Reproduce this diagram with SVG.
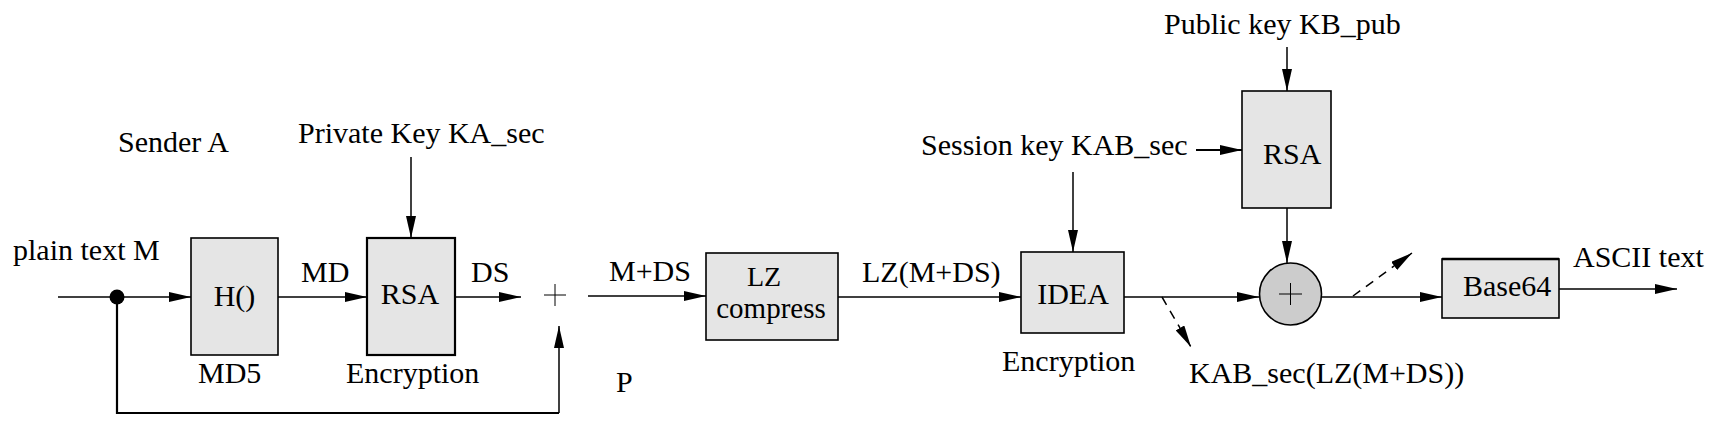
<svg xmlns="http://www.w3.org/2000/svg" width="1716" height="431" viewBox="0 0 1716 431" font-family="'Liberation Serif', 'DejaVu Serif', serif">
<style>
text{font-family:'Liberation Serif','DejaVu Serif',serif;font-size:30px;fill:#000}
.c{text-anchor:middle}
.box{fill:#e5e5e5;stroke:#000;stroke-width:1.6}
.ln{fill:none;stroke:#000;stroke-width:1.5}
.dash{fill:none;stroke:#000;stroke-width:1.5;stroke-dasharray:9,7}
</style>
<defs>
<marker id="ah" viewBox="0 0 22 10" markerWidth="22" markerHeight="10" refX="22" refY="5" orient="auto" markerUnits="userSpaceOnUse">
<path d="M0,0 L22,5 L0,10 z" fill="#000"/>
</marker>
</defs>
<rect width="1716" height="431" fill="#fff"/>

<g id="labels">
<text x="118" y="152">Sender A</text>
<text x="13" y="260">plain text M</text>
<text x="298" y="143">Private Key KA_sec</text>
<text x="616" y="392">P</text>
<text x="921" y="155">Session key KAB_sec</text>
<text x="1164" y="34">Public key KB_pub</text>
<text x="1189" y="383">KAB_sec(LZ(M+DS))</text>
<text x="1573" y="267">ASCII text</text>
</g>

<g id="connectors">
<path class="ln" d="M58,297 H191" marker-end="url(#ah)"/>
<path fill="none" stroke="#000" stroke-width="2.2" d="M117,297 V413 H559"/>
<path class="ln" d="M559,413 V326" marker-end="url(#ah)"/>
<path class="ln" d="M278,297 H367" marker-end="url(#ah)"/>
<text x="301" y="282">MD</text>
<path class="ln" d="M411,157 V238" marker-end="url(#ah)"/>
<path class="ln" d="M455,297 H521" marker-end="url(#ah)"/>
<text x="471" y="282">DS</text>
<path class="ln" d="M588,296 H706" marker-end="url(#ah)"/>
<text x="609" y="281">M+DS</text>
<path class="ln" d="M838,297 H1021" marker-end="url(#ah)"/>
<text x="862" y="282">LZ(M+DS)</text>
<path class="ln" d="M1073,172 V252" marker-end="url(#ah)"/>
<path fill="none" stroke="#000" stroke-width="2.2" d="M1196,150 H1242" marker-end="url(#ah)"/>
<path class="ln" d="M1287,47 V91" marker-end="url(#ah)"/>
<path class="ln" d="M1124,297 H1259" marker-end="url(#ah)"/>
<path class="dash" d="M1162,297 L1191,347" marker-end="url(#ah)"/>
<path class="ln" d="M1287,208 V263" marker-end="url(#ah)"/>
<path class="ln" d="M1322,297 H1442" marker-end="url(#ah)"/>
<path class="dash" d="M1353,296 L1412,253" marker-end="url(#ah)"/>
<path class="ln" d="M1559,289 H1677" marker-end="url(#ah)"/>
</g>

<g id="split">
<circle cx="117" cy="297" r="7.5" fill="#000"/>
</g>

<g id="combine-P">
<path fill="none" stroke="#000" stroke-width="1" d="M544,295 H566 M555,284 V306"/>
</g>

<g id="hash">
<rect class="box" x="191" y="238" width="87" height="117"/>
<text class="c" x="234.5" y="306">H()</text>
<text x="198" y="383">MD5</text>
</g>

<g id="rsa-sign">
<rect class="box" x="367" y="238" width="88" height="117" style="stroke-width:2.2"/>
<text class="c" x="410" y="304">RSA</text>
<text x="346" y="383">Encryption</text>
</g>

<g id="lz">
<rect class="box" x="706" y="253" width="132" height="87"/>
<text class="c" x="764" y="286" style="font-size:28px">LZ</text>
<text class="c" x="771" y="318" style="font-size:29px">compress</text>
</g>

<g id="idea">
<rect class="box" x="1021" y="252" width="103" height="81"/>
<text class="c" x="1073" y="304">IDEA</text>
<text x="1002" y="371">Encryption</text>
</g>

<g id="rsa-key">
<rect class="box" x="1242" y="91" width="89" height="117"/>
<text x="1263" y="164">RSA</text>
</g>

<g id="combine">
<circle cx="1290.5" cy="294" r="31" fill="#cccccc" stroke="#000" stroke-width="1.6"/>
<path fill="none" stroke="#000" stroke-width="1" d="M1279,294 H1302 M1290.5,283 V305"/>
</g>

<g id="base64">
<rect class="box" x="1442" y="259" width="117" height="59"/>
<path d="M1442,259 H1559" stroke="#000" stroke-width="2.5"/>
<text x="1463" y="296">Base64</text>
</g>
</svg>
